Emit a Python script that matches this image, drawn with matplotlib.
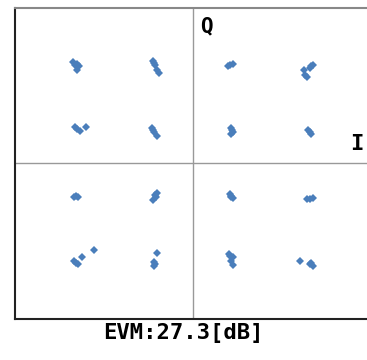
import matplotlib
matplotlib.use("Agg")
import matplotlib.pyplot as plt

# received 16-QAM symbols (I, Q)
i_vals = [-3.07, -2.98, -2.92, -2.97, -3.02,
          -1.03, -0.97, -0.91, -0.87, -1.00,
          -3.03, -2.90, -2.75, -2.97,
          -1.06, -1.00, -0.93, -1.03,
          0.91, 0.96, 1.02,
          3.08, 3.00, 2.85, 2.87, 2.92, 3.04,
          0.97, 1.03, 0.99, 1.01,
          2.96, 3.04, 3.00,
          -3.05, -2.94, -3.00,
          -0.93, -0.95, -1.03, -0.97,
          -3.04, -2.94, -2.83, -2.54, -2.99,
          -0.93, -1.00, -1.00, -0.98,
          0.95, 1.03, 0.99, 0.97,
          2.93, 3.08, 3.00,
          0.93, 1.02, 0.99, 1.03, 0.96,
          2.76, 3.00, 3.07, 3.03]
q_vals = [3.13, 3.06, 2.98, 2.86, 3.02,
          3.16, 3.03, 2.88, 2.78, 3.10,
          1.11, 1.01, 1.11, 1.05,
          1.08, 0.98, 0.85, 1.02,
          3.00, 3.03, 3.06,
          3.03, 2.93, 2.86, 2.72, 2.65, 2.98,
          1.08, 0.98, 0.91, 1.03,
          1.03, 0.91, 0.97,
          -1.02, -1.02, -1.00,
          -0.90, -1.02, -1.12, -0.96,
          -2.99, -3.09, -2.89, -2.66, -3.05,
          -2.76, -3.02, -3.15, -3.09,
          -0.94, -1.07, -1.00, -1.02,
          -1.10, -1.05, -1.08,
          -2.78, -2.89, -2.99, -3.12, -2.84,
          -2.99, -3.10, -3.14, -3.07]
evm_db = 27.3

fig = plt.figure(figsize=(3.67, 3.6), dpi=100)
ax = fig.add_axes([0.042, 0.114, 0.967, 0.864])

ax.axhline(0, color="#999999", lw=1)
ax.axvline(0, color="#999999", lw=1)
ax.plot(i_vals, q_vals, "D", color="#4a7ebb", markersize=4.3, markeredgewidth=0)

ax.set_xlim(-4.55, 4.55)
ax.set_ylim(-4.78, 4.78)
ax.set_xticks([])
ax.set_yticks([])
ax.spines["top"].set_color("#888888")
ax.spines["top"].set_linewidth(1.5)
ax.spines["left"].set_linewidth(1.5)
ax.spines["bottom"].set_linewidth(1.5)
ax.spines["left"].set_color("#222222")
ax.spines["bottom"].set_color("#222222")

ax.text(0.19, 4.2, "Q", fontsize=15, fontweight="bold", family="DejaVu Sans Mono",
        ha="left", va="center")
ax.text(4.2, 0.6, "I", fontsize=16, fontweight="bold", family="DejaVu Sans Mono",
        ha="center", va="center")

fig.text(0.5, 0.075, "EVM:%.1f[dB]" % evm_db, fontsize=16, fontweight="bold",
         family="DejaVu Sans Mono", ha="center", va="center")

fig.savefig("out.png", dpi=100)
